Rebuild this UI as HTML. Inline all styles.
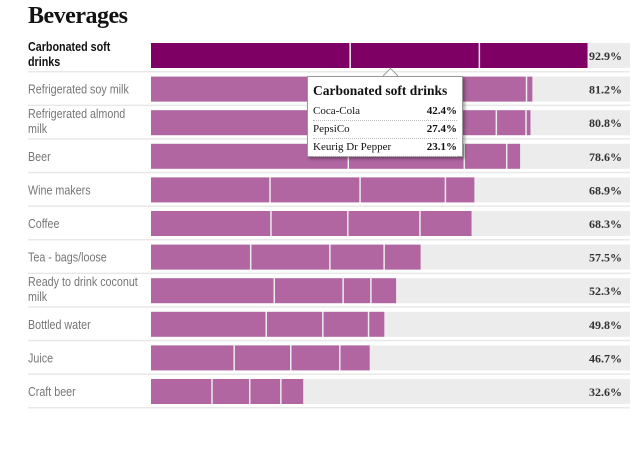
<!DOCTYPE html>
<html><head><meta charset="utf-8"><style>
body{margin:0;background:#fff;width:640px;height:472px;overflow:hidden;position:relative;font-family:"Liberation Sans",sans-serif}
h1{position:absolute;left:28px;top:3px;margin:0;font:bold 24px "Liberation Serif",serif;color:#121212;letter-spacing:-0.5px}
#chart{position:absolute;left:0;top:0}
.tip{position:absolute;left:307px;top:76px;width:154px;height:79px;background:#fff;border:1px solid #999;box-shadow:2px 2px 3px rgba(0,0,0,.35);font-family:"Liberation Serif",serif;font-size:11px;color:#121212}
.tip .t{font-weight:bold;font-size:13.5px;margin:6px 0 4px 5px}
.tip .r{display:flex;justify-content:space-between;margin:0 5px;border-bottom:1px dotted #bbb;height:17px;line-height:17px}
.tip .r b{font-weight:bold}
.arrow{position:absolute;left:385px;top:70px;width:10px;height:10px;background:#fff;border-left:1px solid #999;border-top:1px solid #999;transform:rotate(45deg)}
</style></head><body>
<h1>Beverages</h1>
<svg id="chart" width="640" height="472"></svg>
<div class="arrow"></div>
<div class="tip">
<div class="t">Carbonated soft drinks</div>
<div class="r"><span>Coca-Cola</span><b>42.4%</b></div>
<div class="r"><span>PepsiCo</span><b>27.4%</b></div>
<div class="r"><span>Keurig Dr Pepper</span><b>23.1%</b></div>
</div>
<script>
const categories=[["Carbonated soft","drinks"],["Refrigerated soy milk"],["Refrigerated almond","milk"],["Beer"],["Wine makers"],["Coffee"],["Tea - bags/loose"],["Ready to drink coconut","milk"],["Bottled water"],["Juice"],["Craft beer"]];
const totals=[92.9,81.2,80.8,78.6,68.9,68.3,57.5,52.3,49.8,46.7,32.6];
const segments=[[42.4,27.4,23.1],[42,22.7,15.1,1.4],[40,20,13.4,6.3,1.1],[42,24.6,9,3],[25.4,19.1,18.1,6.3],[25.6,16.3,15.3,11.1],[21.3,16.8,11.5,7.9],[26.3,14.6,5.9,5.5],[24.6,12,9.7,3.5],[17.8,12,10.4,6.5],[13.1,8,6.6,4.9]];
const valueLabels=["92.9%","81.2%","80.8%","78.6%","68.9%","68.3%","57.5%","52.3%","49.8%","46.7%","32.6%"];
const NS="http://www.w3.org/2000/svg",svg=document.getElementById('chart');
const x=v=>151+v*4.715, y=i=>43+i*33.6;
function mk(t,a){const e=document.createElementNS(NS,t);for(const k in a)e.setAttribute(k,a[k]);svg.appendChild(e);return e;}
categories.forEach((c,i)=>{
  const sep=mk('rect',{x:28,y:y(i)+28,width:602,height:1.5,fill:'#e8e8e8'});
  
  
  const tr=mk('rect',{x:151,y:y(i),width:479,height:25,fill:'#ececec'});
  
  
  let acc=0;const col=i===0?'#7e0064':'#b166a1';
  segments[i].forEach(s=>{
    const r=mk('rect',{x:x(acc),y:y(i),width:Math.max(0,x(acc+s)-x(acc)-1.5),height:25,fill:col});
    
    
    acc+=s;
  });
  const lab=mk('text',{x:28,y:c.length>1?y(i)+8:y(i)+17,'font-size':12.5,fill:i===0?'#121212':'#767676','font-weight':i===0?'bold':'normal',transform:'translate(28 0) scale(0.86 1) translate(-28 0)'});
  
  
  c.forEach((l,k)=>{const ts=document.createElementNS(NS,'tspan');ts.setAttribute('x',28);ts.setAttribute('dy',k?15:0);ts.textContent=l;lab.appendChild(ts);});
  const v=mk('text',{x:622,y:y(i)+17,'text-anchor':'end','font-size':12,'font-weight':'bold','font-family':'Liberation Serif,serif',fill:'#333'});
  
  
  v.textContent=valueLabels[i];
});
</script>
</body></html>
